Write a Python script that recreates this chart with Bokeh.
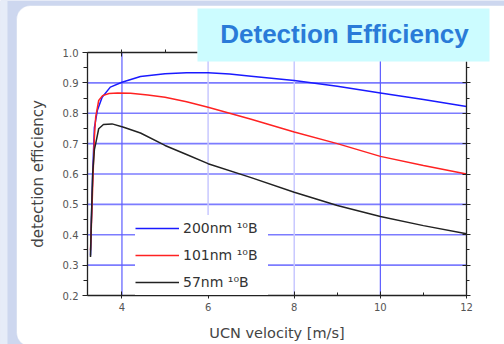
from bokeh.plotting import figure
from bokeh.models import (LinearAxis, SingleIntervalTicker, Legend, LegendItem,
                          BoxAnnotation, Label, PrintfTickFormatter, CustomJSTickFormatter, Range1d)
from bokeh.embed import file_html
from bokeh.resources import INLINE

# ---- data ----
x_200 = [3.27, 3.29, 3.32, 3.36, 3.43, 3.54, 3.73, 4.0, 4.43, 5.0, 5.5, 6.0, 6.5, 7.0, 8.0, 9.0, 10.0, 11.0, 12.0]
y_200 = [0.332, 0.447, 0.60, 0.753, 0.81, 0.853, 0.886, 0.902, 0.921, 0.930, 0.933, 0.933, 0.929, 0.922, 0.908, 0.889, 0.867, 0.845, 0.822]

x_101 = [3.27, 3.30, 3.33, 3.36, 3.39, 3.46, 3.55, 3.7, 3.9, 4.2, 4.6, 5.0, 5.5, 6.0, 7.0, 8.0, 9.0, 10.0, 11.0, 12.0]
y_101 = [0.349, 0.47, 0.60, 0.72, 0.787, 0.842, 0.858, 0.865, 0.867, 0.866, 0.86, 0.853, 0.838, 0.82, 0.78, 0.738, 0.70, 0.658, 0.628, 0.60]

x_57 = [3.27, 3.29, 3.32, 3.36, 3.39, 3.46, 3.57, 3.77, 4.04, 4.43, 5.0, 5.5, 6.0, 7.0, 8.0, 9.0, 10.0, 11.0, 12.0]
y_57 = [0.327, 0.45, 0.60, 0.68, 0.70, 0.749, 0.763, 0.765, 0.754, 0.735, 0.694, 0.664, 0.634, 0.588, 0.54, 0.496, 0.46, 0.43, 0.403]

series_labels = ["200nm \u00b9\u2070B", "101nm \u00b9\u2070B", "57nm \u00b9\u2070B"]
series_colors = ["#1a1aff", "#ff2222", "#222222"]

x_limits = [3.2, 12.0]
y_limits = [0.2, 1.0]
h_grid = [0.3, 0.4, 0.5, 0.6, 0.7, 0.8, 0.9]
x_strong_grid = [4, 10]
x_light_grid = [6, 8]

title_text = "Detection Efficiency"
x_label = "UCN velocity [m/s]"
y_label = "detection efficiency"

# ---- layout (pixels) ----
W, H = 504, 344
FL, FR, FT, FB = 87, 466, 52, 295
kx = (FR - FL) / (x_limits[1] - x_limits[0])
ky = (FB - FT) / (y_limits[1] - y_limits[0])
xr = Range1d(x_limits[0] - FL / kx, x_limits[1] + (W - FR) / kx)
yr = Range1d(y_limits[0] - (H - FB) / ky, y_limits[1] + FT / ky)

p = figure(width=W, height=H, x_range=xr, y_range=yr, title=None,
           output_backend="svg", toolbar_location=None,
           x_axis_location=None, y_axis_location=None, min_border=0,
           border_fill_color="#cdd7ef", background_fill_color="#cdd7ef",
           outline_line_color=None)
p.grid.visible = False

# slide background (screen units: origin bottom-left of canvas)
p.add_layout(BoxAnnotation(left=0, right=7, bottom=0, top=H,
                           left_units="screen", right_units="screen",
                           top_units="screen", bottom_units="screen",
                           fill_color="#e6ecf8", fill_alpha=1, line_color=None, level="image"))
p.add_layout(BoxAnnotation(left=16, right=560, bottom=-2, top=339,
                           left_units="screen", right_units="screen",
                           top_units="screen", bottom_units="screen",
                           fill_color="white", fill_alpha=1, line_color="#b8c6e6",
                           border_radius=14, level="image"))

# grid lines
p.segment(x0=x_limits[0], x1=x_limits[1], y0=h_grid, y1=h_grid,
          line_color="#7c7cff", line_width=1.6)
p.segment(x0=x_strong_grid, x1=x_strong_grid, y0=y_limits[0], y1=y_limits[1],
          line_color="#5c5cff", line_width=1.2)
p.segment(x0=x_light_grid, x1=x_light_grid, y0=y_limits[0], y1=y_limits[1],
          line_color="#c8c8ff", line_width=1.5)

tick_font = "DejaVu Sans"
eps = 1e-4
common = dict(axis_line_color="#222222", axis_line_width=1.3,
              major_tick_line_color="#222222", minor_tick_line_color="#222222")

bottom = LinearAxis(fixed_location=y_limits[0], bounds=(x_limits[0] - eps, x_limits[1] + eps),
                    ticker=SingleIntervalTicker(interval=2, num_minor_ticks=2),
                    axis_label=x_label, major_tick_in=4, major_tick_out=3,
                    minor_tick_in=3, minor_tick_out=0, major_label_standoff=4,
                    major_label_text_font=tick_font, major_label_text_font_size="10px",
                    major_label_text_color="#555555", axis_label_text_font=tick_font,
                    axis_label_text_font_style="normal", axis_label_text_color="#444444",
                    axis_label_text_font_size="14.5px", axis_label_standoff=11, **common)
left = LinearAxis(fixed_location=x_limits[0], bounds=(y_limits[0] - eps, y_limits[1] + eps),
                  ticker=SingleIntervalTicker(interval=0.1, num_minor_ticks=2),
                  formatter=PrintfTickFormatter(format="%.1f"),
                  axis_label=y_label, major_tick_in=0, major_tick_out=5,
                  minor_tick_in=0, minor_tick_out=4, major_label_standoff=4,
                  major_label_text_font=tick_font, major_label_text_font_size="10px",
                  major_label_text_color="#555555", axis_label_text_font=tick_font,
                  axis_label_text_font_style="normal", axis_label_text_color="#444444",
                  axis_label_text_font_size="15px", axis_label_standoff=13, **common)
blank = CustomJSTickFormatter(code="return '';")
top_ax = LinearAxis(fixed_location=y_limits[1], bounds=(x_limits[0] - eps, 5.75),
                    ticker=SingleIntervalTicker(interval=2, num_minor_ticks=2), formatter=blank,
                    major_tick_in=4, major_tick_out=0, minor_tick_in=0, minor_tick_out=3,
                    **common)
right_ax = LinearAxis(fixed_location=x_limits[1], bounds=(y_limits[0] - eps, 0.972),
                      ticker=SingleIntervalTicker(interval=0.1, num_minor_ticks=2), formatter=blank,
                      major_tick_in=4, major_tick_out=4, minor_tick_in=0, minor_tick_out=3,
                      **common)
p.add_layout(bottom, "below")
p.add_layout(left, "left")
p.add_layout(top_ax, "above")
p.add_layout(right_ax, "right")

# curves
r1 = p.line(x_200, y_200, line_color=series_colors[0], line_width=1.5)
r2 = p.line(x_101, y_101, line_color=series_colors[1], line_width=1.5)
r3 = p.line(x_57, y_57, line_color=series_colors[2], line_width=1.5)

legend = Legend(items=[LegendItem(label=series_labels[0], renderers=[r1]),
                       LegendItem(label=series_labels[1], renderers=[r2]),
                       LegendItem(label=series_labels[2], renderers=[r3])],
                location=(135, H - FB), label_text_font="DejaVu Sans", label_text_font_size="14px",
                label_text_color="#333333", glyph_width=44, glyph_height=26, label_height=26,
                spacing=1, padding=10, margin=0, background_fill_color="white",
                background_fill_alpha=1, border_line_color=None, label_standoff=4,
                label_width=85)
p.add_layout(legend)

# title box
p.add_layout(BoxAnnotation(left=197, right=489, bottom=H - 61, top=H - 8,
                           left_units="screen", right_units="screen",
                           top_units="screen", bottom_units="screen",
                           fill_color="#ccfcff", fill_alpha=1, line_color=None, level="overlay"))
p.add_layout(Label(x=344, y=H - 33, x_units="screen", y_units="screen", text=title_text,
                   text_font="Liberation Sans", text_font_style="bold", text_font_size="26px",
                   text_color="#2a7bd8", text_align="center", text_baseline="alphabetic",
                   level="overlay"))

open("out.html", "w").write(file_html(p, INLINE))
